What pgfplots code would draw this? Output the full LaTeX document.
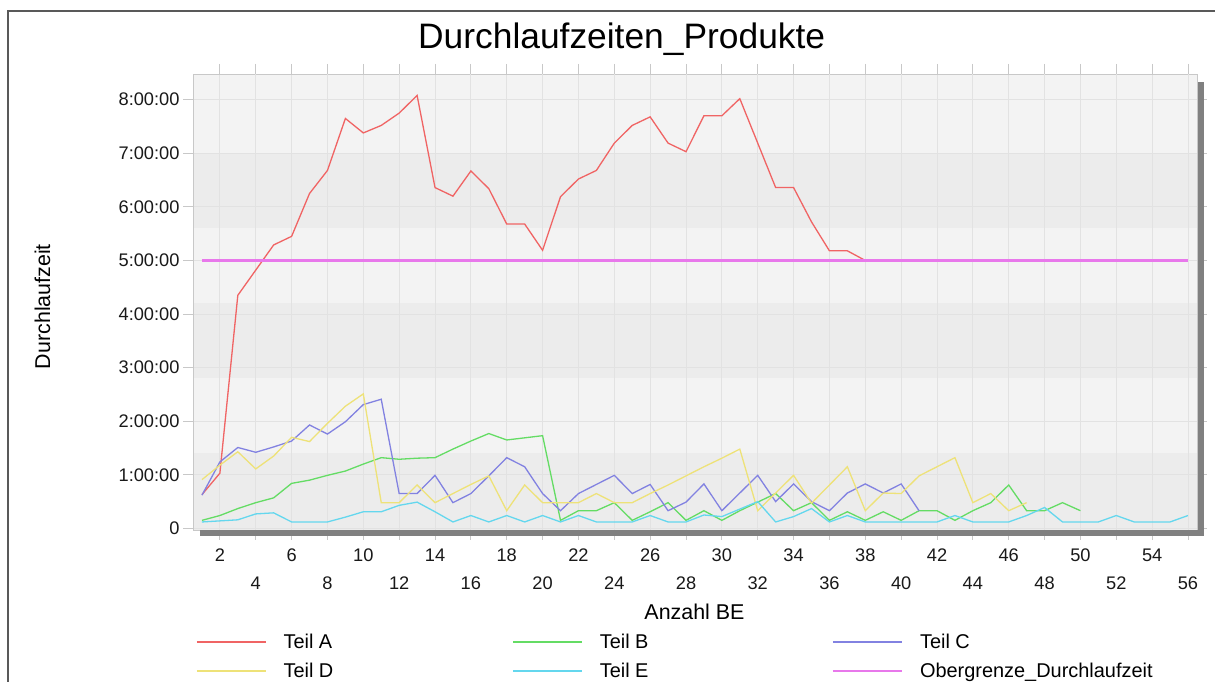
\documentclass[border=0pt]{standalone}
\usepackage{fontspec}
\setmainfont{Liberation Sans}
\usepackage{pgfplots}
\pgfplotsset{compat=1.18}
\definecolor{cA}{RGB}{240,100,100}
\definecolor{cB}{RGB}{100,220,100}
\definecolor{cC}{RGB}{130,130,225}
\definecolor{cD}{RGB}{238,226,120}
\definecolor{cE}{RGB}{100,215,238}
\definecolor{cO}{RGB}{232,120,235}
\definecolor{bgl}{RGB}{243,243,243}
\definecolor{bgd}{RGB}{236,236,236}
\definecolor{gridc}{RGB}{226,226,226}
\definecolor{framec}{RGB}{200,200,200}
\definecolor{shadowc}{RGB}{128,128,128}
\begin{document}
\begin{tikzpicture}[x=1bp,y=1bp]
\useasboundingbox (0,0) rectangle (1215,682);
\fill[white] (0,0) rectangle (1215,682);
\draw[black!65, line width=1.3bp] (8,0) -- (8,671) -- (1215,671);
% plot background with subtle bands
\fill[bgl] (193,152) rectangle (1197,608);
\fill[bgd] (193,152) rectangle (1197,228.6);
\fill[bgd] (193,303.6) rectangle (1197,378.6);
\fill[bgd] (193,453.7) rectangle (1197,528.7);
\begin{axis}[
  at={(193bp,152bp)}, anchor=south west,
  scale only axis, width=1004bp, height=456bp,
  xmin=0.5, xmax=56.5, ymin=-0.03, ymax=8.48,
  axis line style={framec},
  xtick={2,6,...,54},
  extra x ticks={4,8,...,56},
  extra x tick style={xticklabel style={yshift=-28bp}},
  ytick={0,1,...,8},
  yticklabels={0,1:00:00,2:00:00,3:00:00,4:00:00,5:00:00,6:00:00,7:00:00,8:00:00},
  tick align=outside,
  major tick length=10bp,
  tick style={framec, line width=0.8bp},
  xmajorgrids, ymajorgrids,
  major grid style={gridc, line width=0.8bp},
  /pgf/number format/assume math mode=true,
  ticklabel style={font=\fontsize{18.3}{20}\selectfont, text=black!90},
  xticklabel style={yshift=-5bp},
  title={Durchlaufzeiten\_Produkte},
  title style={at={(axis description cs:0.427,1.0417)}, anchor=base, font=\fontsize{35.5}{40}\selectfont},
  xlabel={Anzahl BE},
  xlabel style={at={(axis description cs:0.4995,-0.197)}, anchor=base, font=\fontsize{21.5}{24}\selectfont},
  ylabel={Durchlaufzeit},
  ylabel style={at={(axis description cs:-0.1424,0.49)}, anchor=base, font=\fontsize{21.5}{24}\selectfont},
  legend columns=3,
  legend style={at={(axis description cs:0.003,-0.228)}, anchor=north west, draw=none, fill=none,
    inner sep=0pt, font=\fontsize{20}{24}\selectfont, row sep=13bp,
    nodes={inner sep=0pt},
    /tikz/every odd column/.style={column sep=17bp}},
  legend cell align=left,
  legend image code/.code={\draw[#1] (0bp,0bp) -- (69bp,0bp);},
  every axis plot/.append style={line width=1.3bp},
]
\addplot[cA] coordinates {
(1,0.63) (2,1.03) (3,4.35) (4,4.82) (5,5.29) (6,5.45) (7,6.25) (8,6.68) (9,7.65) (10,7.38)
(11,7.52) (12,7.75) (13,8.08) (14,6.36) (15,6.20) (16,6.67) (17,6.34) (18,5.68) (19,5.68) (20,5.19)
(21,6.19) (22,6.52) (23,6.68) (24,7.19) (25,7.52) (26,7.68) (27,7.19) (28,7.03) (29,7.70) (30,7.70)
(31,8.02) (32,7.19) (33,6.36) (34,6.36) (35,5.72) (36,5.18) (37,5.18) (38,5.00)};
\addlegendentry{\makebox[229bp][l]{Teil A}}
\addplot[cB] coordinates {
(1,0.15) (2,0.24) (3,0.37) (4,0.48) (5,0.57) (6,0.84) (7,0.90) (8,0.99) (9,1.07) (10,1.20)
(11,1.32) (12,1.29) (13,1.31) (14,1.32) (15,1.48) (16,1.63) (17,1.77) (18,1.65) (19,1.69) (20,1.73)
(21,0.15) (22,0.33) (23,0.33) (24,0.48) (25,0.15) (26,0.31) (27,0.48) (28,0.15) (29,0.33) (30,0.15)
(31,0.33) (32,0.49) (33,0.65) (34,0.33) (35,0.48) (36,0.15) (37,0.31) (38,0.15) (39,0.31) (40,0.15)
(41,0.33) (42,0.33) (43,0.15) (44,0.33) (45,0.48) (46,0.81) (47,0.33) (48,0.33) (49,0.48) (50,0.33)};
\addlegendentry{\makebox[232bp][l]{Teil B}}
\addplot[cC] coordinates {
(1,0.62) (2,1.24) (3,1.51) (4,1.42) (5,1.52) (6,1.63) (7,1.93) (8,1.76) (9,1.99) (10,2.31)
(11,2.41) (12,0.65) (13,0.65) (14,0.99) (15,0.48) (16,0.65) (17,0.98) (18,1.32) (19,1.15) (20,0.65)
(21,0.33) (22,0.65) (23,0.82) (24,0.99) (25,0.65) (26,0.82) (27,0.33) (28,0.49) (29,0.83) (30,0.33)
(31,0.66) (32,0.99) (33,0.50) (34,0.83) (35,0.50) (36,0.33) (37,0.66) (38,0.83) (39,0.66) (40,0.83)
(41,0.33)};
\addlegendentry{Teil C}
\addplot[cD] coordinates {
(1,0.91) (2,1.18) (3,1.43) (4,1.11) (5,1.35) (6,1.70) (7,1.62) (8,1.96) (9,2.28) (10,2.51)
(11,0.48) (12,0.48) (13,0.81) (14,0.48) (15,0.65) (16,0.82) (17,0.98) (18,0.33) (19,0.81) (20,0.48)
(21,0.48) (22,0.48) (23,0.65) (24,0.48) (25,0.48) (26,0.65) (27,0.81) (28,0.98) (29,1.15) (30,1.31)
(31,1.48) (32,0.33) (33,0.66) (34,0.99) (35,0.47) (36,0.81) (37,1.15) (38,0.33) (39,0.66) (40,0.65)
(41,0.98) (42,1.15) (43,1.32) (44,0.48) (45,0.65) (46,0.33) (47,0.48)};
\addlegendentry{\makebox[229bp][l]{Teil D}}
\addplot[cE] coordinates {
(1,0.12) (2,0.14) (3,0.16) (4,0.27) (5,0.29) (6,0.12) (7,0.12) (8,0.12) (9,0.21) (10,0.31)
(11,0.31) (12,0.43) (13,0.49) (14,0.31) (15,0.12) (16,0.24) (17,0.12) (18,0.24) (19,0.12) (20,0.24)
(21,0.12) (22,0.24) (23,0.12) (24,0.12) (25,0.12) (26,0.24) (27,0.12) (28,0.12) (29,0.25) (30,0.22)
(31,0.36) (32,0.50) (33,0.12) (34,0.22) (35,0.37) (36,0.12) (37,0.24) (38,0.12) (39,0.12) (40,0.12)
(41,0.12) (42,0.12) (43,0.24) (44,0.12) (45,0.12) (46,0.12) (47,0.24) (48,0.39) (49,0.12) (50,0.12)
(51,0.12) (52,0.24) (53,0.12) (54,0.12) (55,0.12) (56,0.24)};
\addlegendentry{\makebox[232bp][l]{Teil E}}
\addplot[cO, line width=2.2bp] coordinates {(1,5) (56,5)};
\addlegendentry{Obergrenze\_Durchlaufzeit}
\end{axis}
\fill[shadowc] (1198,146) rectangle (1204,600);
\fill[shadowc] (200,146) rectangle (1204,152);
\end{tikzpicture}
\end{document}
